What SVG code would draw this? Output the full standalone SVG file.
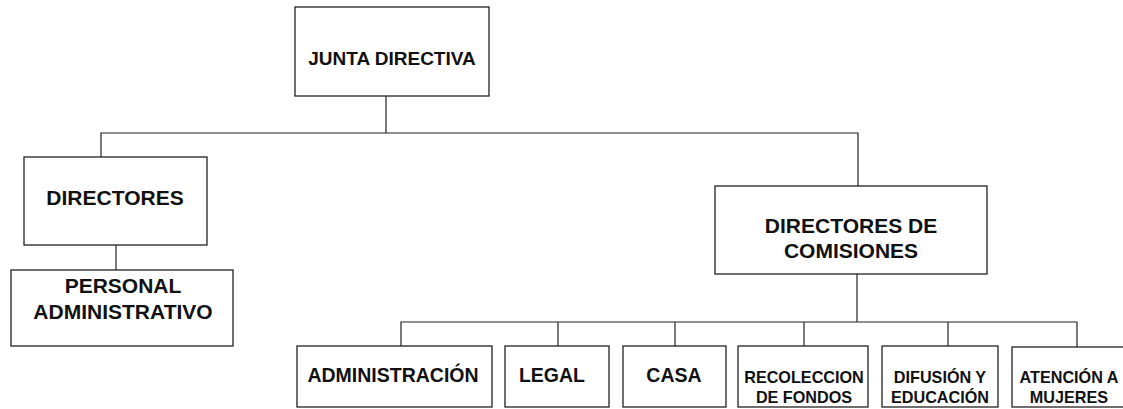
<svg xmlns="http://www.w3.org/2000/svg" width="1123" height="409" viewBox="0 0 1123 409">
<style>
.box{fill:#fff;stroke:#222;stroke-width:1.3}
.con{fill:none;stroke:#222;stroke-width:1.2}
text{font-family:"Liberation Sans",Arial,sans-serif;font-weight:bold;fill:#111;text-anchor:middle}
.big{font-size:21px}
.mid{font-size:19.5px}
.top{font-size:19px}
.sm{font-size:16.2px}
</style>
<rect width="1123" height="409" fill="#fff"/>
<g id="connectors" class="con">
<path d="M386 96V133"/>
<path d="M101 157V133H858V186"/>
<path d="M116 245V270"/>
<path d="M857 274V322"/>
<path d="M401 346V322H1077V347"/>
<path d="M558 322V346"/>
<path d="M675 322V346"/>
<path d="M804 322V346"/>
<path d="M948 322V346"/>
</g>
<g id="junta"><rect class="box" x="295" y="7" width="194" height="89"/><text class="top" x="392" y="65">JUNTA DIRECTIVA</text></g>
<g id="directores"><rect class="box" x="24" y="157" width="183" height="88"/><text class="big" x="115" y="205">DIRECTORES</text></g>
<g id="personal"><rect class="box" x="11" y="270" width="222" height="76"/><text class="big" x="123" y="293">PERSONAL</text><text class="big" x="123" y="319">ADMINISTRATIVO</text></g>
<g id="comisiones"><rect class="box" x="715" y="186" width="272" height="88"/><text class="big" x="851" y="233">DIRECTORES DE</text><text class="big" x="851" y="258">COMISIONES</text></g>
<g id="administracion"><rect class="box" x="297" y="346" width="195" height="61"/><text class="mid" x="393" y="382">ADMINISTRACIÓN</text></g>
<g id="legal"><rect class="box" x="505" y="346" width="104" height="61"/><text class="mid" x="552" y="382">LEGAL</text></g>
<g id="casa"><rect class="box" x="623" y="346" width="103" height="61"/><text class="mid" x="674" y="382">CASA</text></g>
<g id="recoleccion"><rect class="box" x="738" y="346" width="130" height="61"/><text class="sm" x="804" y="383">RECOLECCION</text><text class="sm" x="804" y="403">DE FONDOS</text></g>
<g id="difusion"><rect class="box" x="882" y="346" width="116" height="61"/><text class="sm" x="940" y="383">DIFUSIÓN Y</text><text class="sm" x="940" y="403">EDUCACIÓN</text></g>
<g id="atencion"><rect class="box" x="1012" y="347" width="115" height="60"/><text class="sm" x="1069" y="383">ATENCIÓN A</text><text class="sm" x="1069" y="403">MUJERES</text></g>
</svg>
